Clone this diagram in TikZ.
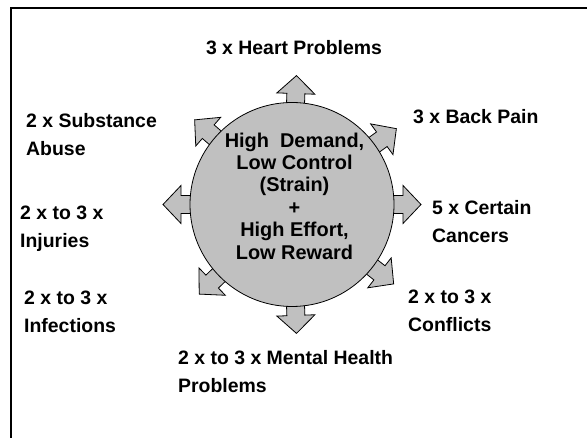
\documentclass[tikz,border=0pt]{standalone}
\usepackage{fontspec}
\setmainfont{Liberation Sans}
\usetikzlibrary{calc}
\definecolor{cgray}{RGB}{192,192,192}
\tikzset{
  blockarrow/.style={fill=cgray,draw=black,line width=0.8bp,line join=miter},
  lbl/.style={font=\bfseries\fontsize{19.5}{28}\selectfont,align=left,anchor=west,inner sep=0pt},
  ctr/.style={font=\bfseries\fontsize{20}{22.5}\selectfont,align=center,inner sep=0pt}
}
\begin{document}
\begin{tikzpicture}[x=1bp,y=1bp]
\useasboundingbox (0,0) rectangle (587,438);
% frame
\draw[line width=2bp] (11,0) -- (11,430) -- (587,430);
\coordinate (c) at (292,233.5);
% arrows
\foreach \a in {88,36,0,-38,-88,-136,180,139}{
  \draw[blockarrow,shift={(c)},rotate=\a] (85,-9) -- (111,-9) -- (111,-19) -- (129,0) -- (111,19) -- (111,9) -- (85,9) -- cycle;
}
\node[circle,fill=cgray,draw=black,line width=0.8bp,minimum size=204bp,inner sep=0pt] (hub) at (c) {};
\node[ctr] (ctext) at (294.5,242) {High\ \ Demand,\\Low Control\\(Strain)\\+\\High Effort,\\Low Reward};
% labels
\node[lbl,anchor=center] (heart) at (294,390) {3 x Heart Problems};
\node[lbl] (back) at (413,321) {3 x Back Pain};
\node[lbl] (cancer) at (432,216.5) {5 x Certain\\Cancers};
\node[lbl] (conf) at (408,127) {2 x to 3 x\\Conflicts};
\node[lbl] (mental) at (178,66) {2 x to 3 x Mental Health\\Problems};
\node[lbl] (infect) at (24,126) {2 x to 3 x\\Infections};
\node[lbl] (injur) at (20,209) {2 x to 3 x\\Injuries};
\node[lbl] (subst) at (26,303.5) {2 x Substance\\Abuse};
\end{tikzpicture}
\end{document}
